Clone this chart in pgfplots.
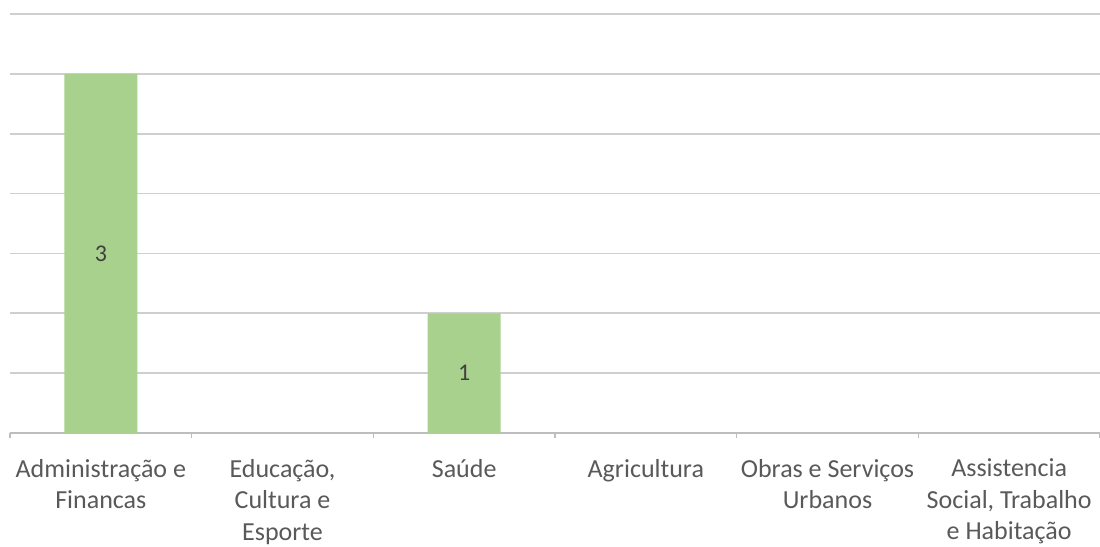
\documentclass[border=0pt]{standalone}
\usepackage{pgfplots}
\pgfplotsset{compat=1.18}
\usepackage{fontspec}
\setmainfont{Carlito}
\definecolor{bargreen}{HTML}{A9D18E}
\definecolor{gridgray}{HTML}{CFCFCF}
\definecolor{axisgray}{HTML}{BDBDBD}
\definecolor{labelgray}{HTML}{595959}
\definecolor{datagray}{HTML}{404040}

\begin{document}
\begin{tikzpicture}
\path[use as bounding box] (-5bp,-57bp) rectangle (545bp,216.5bp);
\begin{axis}[
    scale only axis,
    width=545bp, height=209.5bp,
    at={(0,0)}, anchor=south west,
    xmin=-0.5, xmax=5.5,
    ymin=0, ymax=3.5,
    axis x line*=bottom, axis y line*=left,
    y axis line style={draw=none},
    x axis line style={axisgray, line width=0.8bp, -},
    ytick={0,0.5,...,3.5},
    yticklabels={},
    ytick style={draw=none},
    ymajorgrids,
    grid style={gridgray, line width=0.8bp},
    xtick={0,...,5},
    major tick length=0pt,
    xtick style={axisgray, line width=0.8bp},
    xticklabels={{Administração e\\Financas},{Educação,\\Cultura e\\Esporte},{Saúde},{Agricultura},{Obras e Serviços\\Urbanos},{Assistencia\\Social, Trabalho\\e Habitação}},
    xticklabel style={font=\fontsize{13bp}{15.75bp}\selectfont, text=labelgray, align=center, anchor=north, yshift=-9.5bp},
    extra x ticks={-0.5,0.5,...,5.5},
    extra x tick labels={},
    extra x tick style={major tick length=2.5bp, tick align=outside, grid=none},
    clip=false,
]
    \addplot[ybar, bar width=36.5bp, fill=bargreen, draw=none]
        coordinates {(0,3) (1,0) (2,1) (3,0) (4,0) (5,0)};

    % value labels sit in the middle of each bar
    \addplot[draw=none, mark=none, nodes near coords, point meta=explicit symbolic,
        nodes near coords style={anchor=center, font=\fontsize{12bp}{14bp}\selectfont, text=datagray}]
        coordinates {(0,1.5) [3] (2,0.5) [1]};
\end{axis}
\end{tikzpicture}
\end{document}
